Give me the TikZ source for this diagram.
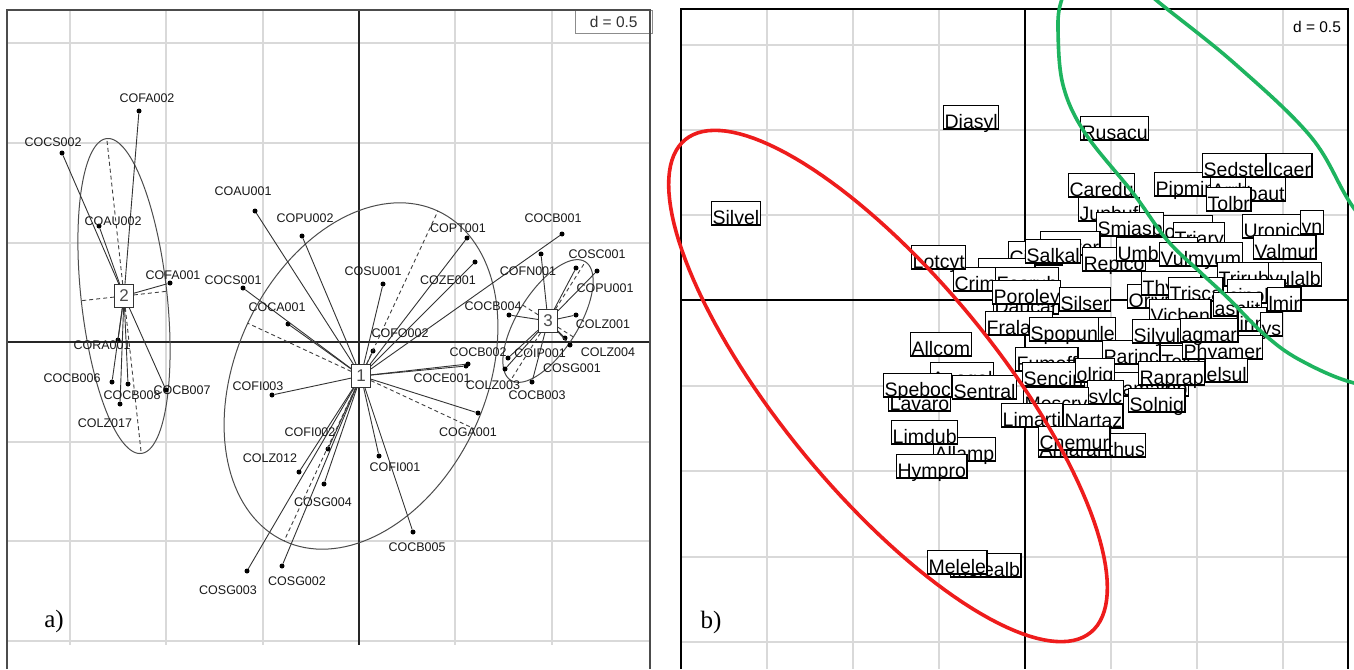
\documentclass[tikz,border=0pt]{standalone}
\usepackage{fontspec}
\setmainfont{Liberation Sans}
\newfontfamily\serifA{Liberation Serif}
\newcommand{\myEll}[7]{%
 \draw[#1] plot[domain=0:360,samples=145,variable=\t] ({#2+#4*cos(\t)*(#6)-#5*sin(\t)*(#7)},{#3+#4*cos(\t)*(#7)+#5*sin(\t)*(#6)}) -- cycle;}
\tikzset{
 gridl/.style={draw=black!15, line width=1.8pt},
 axisA/.style={draw=black!85, line width=1.3pt},
 axisB/.style={draw=black, line width=1.6pt},
 frameA/.style={draw=black!70, line width=2pt},
 frameB/.style={draw=black, line width=1.6pt},
 star/.style={draw=black!80, line width=0.9pt},
 axdash/.style={draw=black!75, line width=0.9pt, dash pattern=on 4pt off 3pt},
 ellA/.style={draw=black!70, line width=1pt},
 dotA/.style={circle, fill=black, inner sep=0pt, minimum size=5pt},
 cbox/.style={draw=black!80, fill=white, line width=0.9pt, minimum width=19pt, minimum height=23pt, inner sep=0pt, font=\fontsize{17}{17}\selectfont, text=black!70},
 labA/.style={font=\fontsize{12.5}{12.5}\selectfont, text=black!90, inner sep=0pt},
 labB/.style={draw=black, fill=white, line width=1.3pt, anchor=north west, inner xsep=1pt, inner ysep=0.6pt, text height=22pt, text depth=0pt, font=\fontsize{19.5}{19.5}\selectfont},
 redell/.style={draw={rgb,255:red,238;green,28;blue,28}, line width=3.6pt},
 greenell/.style={draw={rgb,255:red,30;green,180;blue,95}, line width=3.6pt},
 panlab/.style={font=\serifA\fontsize{25}{25}\selectfont, inner sep=0pt},
 dlab/.style={font=\fontsize{15.5}{15.5}\selectfont, inner sep=0pt}
}
\begin{document}
\begin{tikzpicture}[x=1pt,y=-1pt]
\useasboundingbox[fill=white] (0,0) rectangle (1354,669);
% ================= panel a =================
\foreach \gx in {70,166,263,455,552} \draw[gridl] (\gx,10) -- (\gx,645);
\foreach \gy in {43,143,243,442,541,641} \draw[gridl] (7,\gy) -- (650,\gy);
\draw[axisA] (359,10) -- (359,645);
\draw[axisA] (7,342) -- (650,342);
\node[draw=black!45, fill=white, minimum width=77pt, minimum height=23pt, anchor=north west, inner sep=0pt, dlab, text=black!80] (dA) at (575,10) {d = 0.5};
\draw[frameA] (7,669) -- (7,10) -- (650,10) -- (650,669);
% ellipses
\myEll{ellA}{361}{376}{182}{125}{0.4226}{-0.9063}
\myEll{ellA}{124}{296}{158.4}{43}{-0.109}{-0.994}
\myEll{ellA}{548}{321}{70}{30}{0.533}{-0.846}
% dots
\foreach \nm/\px/\py in {p1a/255/211,p1b/302/236,p1c/243/288,p1d/288/324,p1e/383/284,p1f/467/238,p1g/475/262,p1h/373/351,p1i/562/234,p1j/468/364,p1k/466/366,p1l/272/395,p1m/328/449,p1n/299/472,p1o/324/484,p1p/247/571,p1q/282/566,p1r/379/456,p1s/413/532,p1t/478/413,
 p2a/139/111,p2b/62/153,p2c/99/226,p2d/170/283,p2e/118/340,p2f/112/382,p2g/128/384,p2h/120/404,p2i/166/390,
 p3a/541/254,p3b/576/268,p3c/597/271,p3d/509/315,p3e/576/315,p3f/570/345,p3g/565/338,p3h/508/358,p3i/505/369,p3j/532/382}
  \node[dotA] (\nm) at (\px,\py) {};
% ellipse axes end points
\coordinate (a1p) at (437.9,211.1); \coordinate (a1m) at (284.1,540.9);
\coordinate (b1p) at (474.3,428.8); \coordinate (b1m) at (247.7,323.2);
\coordinate (a2p) at (106.8,138.9); \coordinate (a2m) at (141.2,453.1);
\coordinate (b2p) at (166.7,291.3); \coordinate (b2m) at (81.3,300.7);
\coordinate (a3p) at (585.3,261.8); \coordinate (a3m) at (510.7,380.2);
\coordinate (b3p) at (573.4,337);   \coordinate (b3m) at (522.6,305);
% class centres
\node[cbox] (n1) at (361,376) {1};
\node[cbox] (n2) at (124,296) {2};
\node[cbox] (n3) at (548,321) {3};
% stars
\foreach \nm in {p1a,p1b,p1c,p1d,p1e,p1f,p1g,p1h,p1i,p1j,p1k,p1l,p1m,p1n,p1o,p1p,p1q,p1r,p1s,p1t} \draw[star] (n1) -- (\nm);
\foreach \nm in {p2a,p2b,p2c,p2d,p2e,p2f,p2g,p2h,p2i} \draw[star] (n2) -- (\nm);
\foreach \nm in {p3a,p3b,p3c,p3d,p3e,p3f,p3g,p3h,p3i,p3j} \draw[star] (n3) -- (\nm);
\foreach \nm in {a1p,a1m,b1p,b1m} \draw[axdash] (n1) -- (\nm);
\foreach \nm in {a2p,a2m,b2p,b2m} \draw[axdash] (n2) -- (\nm);
\foreach \nm in {a3p,a3m,b3p,b3m} \draw[axdash] (n3) -- (\nm);
% labels
\foreach \nm/\lx/\ly/\tx in {l1a/243/191/COAU001,l1b/305/218/COPU002,l1c/233/280/COCS001,l1d/277/307/COCA001,l1e/373/271/COSU001,l1f/458/228/COPT001,l1g/448/280/COZE001,l1h/400/333/COFO002,l1i/553/218/COCB001,l1j/442/378/COCE001,l1k/478/352/COCB002,l1l/258/386/COFI003,l1m/310/432/COFI002,l1n/270/458/COLZ012,l1o/323/502/COSG004,l1p/228/590/COSG003,l1q/297/581/COSG002,l1r/395/467/COFI001,l1s/417/547/COCB005,l1t/468/432/COGA001,
 l2a/147/98/COFA002,l2b/53/142/COCS002,l2c/113/221/COAU002,l2d/173/275/COFA001,l2e/102/345/CORA001,l2f/72/378/COCB006,l2g/132/395/COCB008,l2h/105/423/COLZ017,l2i/182/390/COCB007,
 l3a/528/271/COFN001,l3b/597/254/COSC001,l3c/605/288/COPU001,l3d/493/306/COCB004,l3e/603/324/COLZ001,l3f/608/352/COLZ004,l3g/572/368/COSG001,l3h/540/353/COIP001,l3i/493/385/COLZ003,l3j/537/395/COCB003}
  \node[labA] (\nm) at (\lx,\ly) {\tx};
\node[panlab] (pa) at (54,621) {a)};
% ================= panel b =================
\foreach \gx in {767,853,939,1111,1197,1283} \draw[gridl] (\gx,9) -- (\gx,669);
\foreach \gy in {45,130,215,386,471,557,642} \draw[gridl] (681,\gy) -- (1348,\gy);
\draw[axisB] (1025,9) -- (1025,669);
\draw[axisB] (681,300) -- (1348,300);
\draw[frameB] (681,669) -- (681,9) -- (1348,9) -- (1348,669);
\node[dlab] (dB) at (1317,27) {d = 0.5};
\node[panlab] (pb) at (711,622) {b)};
% labels (back to front)
\foreach \nm/\bx/\by/\tx in {
 q01/1068/173/Caredu, q02/1078/197/Junbuf, q03/1154/172/Pipmin, q06/1210/174/Arrhel, q04/1202/153/Sedste, q05/1266/153/Icaer,
 q07/1245/177/baut, q08/1206/187/Tolbr, q11/1150/215/Koeval, q09/1096/212/Smiasp, q10/1040/231/Galver,
 q12/1173/222/Triary, q13/1242/214/Uropic, q14/1300/210/yn, q15/1253/235/Valmur,
 q16/1008/241/Cirarv, q17/978/258/Tarofo, q18/953/267/Crimar, q19/995/267/Fesrub, q20/1025/239/Salkal,
 q21/1082/247/Repico, q22/1116/237/Umbmon, q23/1159/242/Vulmyum, q24/1217/262/Trirub, q25/1268/262/yulalb,
 q26/1127/284/Orivul, q27/1141/271/Thyvul, q28/1168/277/Trisca, q29/1227/279/cinolig, q30/993/290/Daucar,
 q31/992/280/Poroley, q32/985/311/Fralanc, q33/1059/287/Silser, q34/1213/292/asplit, q35/1267/287/lmir,
 q36/1238/307/inn, q37/1260/312/ys, q38/1149/299/Vicben, q39/1029/317/Spopun, q40/1098/317/le,
 q41/1102/340/Parinc, q42/1160/345/Telspe, q43/1182/335/Phyamer, q44/1205/358/elsul, q45/1132/319/Silyul,
 q46/1180/318/agmar, q47/910/332/Allcom, q48/930/362/Anagal, q49/888/387/Lavaro, q50/883/373/Speboc,
 q51/952/375/Sentral, q52/1015/347/Fumoff, q53/1022/362/Sencin, q54/1110/372/Lamamp, q55/1075/358/olrig,
 q56/1138/361/Raprap, q57/1087/380/sylc, q58/1128/388/Solnig, q59/1023/387/Mescrv, q60/1001/403/Limarti,
 q61/1063/404/Nartaz, q62/1038/433/Amaranthus, q63/1038/426/Cnemur, q64/933/437/Allamp, q65/891/420/Limdub,
 q66/896/454/Hympro, q67/943/105/Diasyl, q68/1080/116/Rusacu, q69/711/201/Silvel, q70/911/245/Lotcyt,
 q71/950/553/Melealb, q72/927/550/Melele}
  \node[labB] (\nm) at (\bx,\by) {\tx};
% hand-drawn ellipses
\begin{scope}
\clip (0,0) rectangle (1354,669);
\myEll{redell}{888}{386}{319}{108}{0.636}{0.772}
\draw[greenell] plot[smooth cycle, tension=0.6] coordinates {(1105,-35) (1072,-18) (1061,2) (1058,30) (1063,85) (1085,133) (1133,193) (1167,240) (1200,272) (1228,298) (1265,335) (1300,360) (1354,383) (1420,392) (1445,340) (1405,270) (1353,207) (1311,137) (1234,63) (1156,0) (1125,-28)};
\end{scope}
\end{tikzpicture}
\end{document}
